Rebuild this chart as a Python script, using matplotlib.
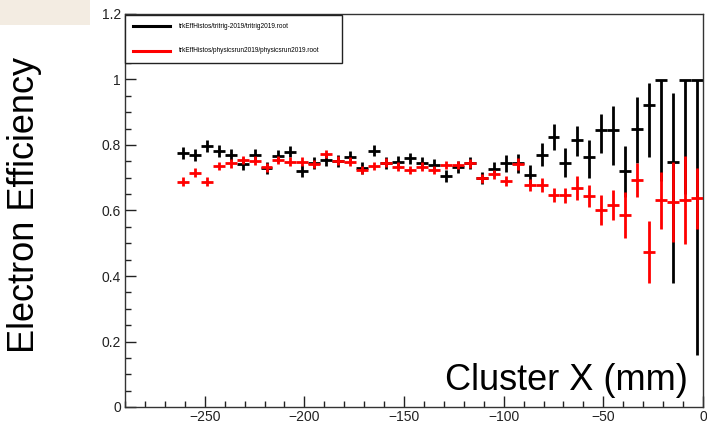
import matplotlib.pyplot as plt
from matplotlib.ticker import MultipleLocator, FuncFormatter
from matplotlib.patches import Rectangle
from matplotlib.lines import Line2D

plt.rcParams['font.family'] = ['Liberation Sans', 'DejaVu Sans']

# bin centres (6 mm bins)
x = [-261, -255, -249, -243, -237, -231, -225, -219, -213, -207, -201,
     -195, -189, -183, -177, -171, -165, -159, -153, -147, -141, -135,
     -129, -123, -117, -111, -105, -99, -93, -87, -81, -75, -69, -63,
     -57, -51, -45, -39, -33, -27, -21, -15, -9, -3]
half_bin = 3

# tritrig 2019 (black)
eff_tri = [0.775, 0.770, 0.797, 0.782, 0.770, 0.742, 0.770, 0.730, 0.766, 0.780, 0.720,
           0.745, 0.754, 0.750, 0.764, 0.730, 0.783, 0.745, 0.749, 0.759, 0.744, 0.739,
           0.705, 0.734, 0.744, 0.700, 0.727, 0.744, 0.744, 0.708, 0.770, 0.825, 0.746, 0.815,
           0.764, 0.846, 0.846, 0.722, 0.848, 0.922, 1.0, 0.749, 1.0, 1.0]
err_tri_lo = [0.018] * 26 + [0.022, 0.025, 0.028, 0.030, 0.035, 0.040, 0.044, 0.050,
                             0.066, 0.070, 0.107, 0.080, 0.104, 0.158, 0.31, 0.37, 0.35, 0.84]
err_tri_hi = [0.018] * 26 + [0.022, 0.025, 0.028, 0.030, 0.035, 0.040, 0.044, 0.043,
                             0.051, 0.050, 0.073, 0.075, 0.098, 0.066, 0.0, 0.21, 0.0, 0.0]

# physics run 2019 (red)
eff_phys = [0.688, 0.716, 0.688, 0.736, 0.744, 0.754, 0.752, 0.732, 0.754, 0.749, 0.749,
            0.742, 0.772, 0.752, 0.749, 0.724, 0.736, 0.746, 0.734, 0.724, 0.734, 0.724,
            0.739, 0.739, 0.744, 0.698, 0.710, 0.690, 0.742, 0.678, 0.678, 0.647, 0.647, 0.668,
            0.644, 0.602, 0.617, 0.586, 0.693, 0.474, 0.632, 0.627, 0.632, 0.637]
err_phys = [0.013] * 26 + [0.015, 0.016, 0.017, 0.018, 0.020, 0.021, 0.023, 0.037,
                           0.034, 0.046, 0.046, 0.071, 0.053, 0.094, 0.087, 0.122, 0.134, 0.094]

legend_labels = ["trkEffHistos/tritrig-2019/tritrig2019.root",
                 "trkEffHistos/physicsrun2019/physicsrun2019.root"]

W, H = 707, 425
fig = plt.figure(figsize=(W / 100, H / 100), dpi=100)

# beige patch top-left
fig.patches.append(Rectangle((0, 1 - 25 / H), 90 / W, 25 / H, transform=fig.transFigure,
                             facecolor='#f3ece2', edgecolor='none'))

ax = fig.add_axes([125 / W, 1 - 407 / H, 578 / W, 393 / H])

ax.errorbar(x, eff_tri, xerr=half_bin, yerr=[err_tri_lo, err_tri_hi], fmt='none',
            ecolor='black', elinewidth=2.0, capsize=0, zorder=2)
ax.errorbar(x, eff_phys, xerr=half_bin, yerr=err_phys, fmt='none',
            ecolor='#ff0000', elinewidth=2.0, capsize=0, zorder=3)

ax.set_xlim(-290, 0)
ax.set_ylim(0, 1.2)
ax.xaxis.set_major_locator(MultipleLocator(50))
ax.xaxis.set_minor_locator(MultipleLocator(10))
ax.yaxis.set_major_locator(MultipleLocator(0.2))
ax.yaxis.set_minor_locator(MultipleLocator(0.05))
ax.yaxis.set_major_formatter(FuncFormatter(lambda v, p: f"{v:g}"))
ax.tick_params(which='both', direction='in', top=False, right=False, labelsize=10,
               colors='#222222')
ax.tick_params(which='major', length=8, width=1)
ax.tick_params(which='minor', length=4.5, width=1)
ax.tick_params(axis='y', pad=3)
ax.tick_params(axis='x', pad=2)
for s in ax.spines.values():
    s.set_color('#333333')
    s.set_linewidth(1)

# legend box, drawn like the ROOT one
fig.patches.append(Rectangle((125 / W, 1 - 63 / H), 217 / W, 48 / H, transform=fig.transFigure,
                             facecolor='white', edgecolor='#222222', linewidth=1, zorder=5))
for i, (lab, col) in enumerate(zip(legend_labels, ['black', '#ff0000'])):
    yy = 1 - (26 + 25 * i) / H
    fig.lines.append(Line2D([133 / W, 170 / W], [yy, yy], transform=fig.transFigure,
                            color=col, linewidth=2.2, zorder=6))
    fig.text(179 / W, yy, lab, fontsize=4.7, va='center', ha='left', zorder=6)

fig.text(25 / W, 1 - 205 / H, "Electron Efficiency", rotation=90, fontsize=26,
         ha='center', va='center')
fig.text(688 / W, 1 - 390 / H, "Cluster X (mm)", fontsize=26, ha='right', va='baseline')

fig.savefig("out.png", dpi=100)
